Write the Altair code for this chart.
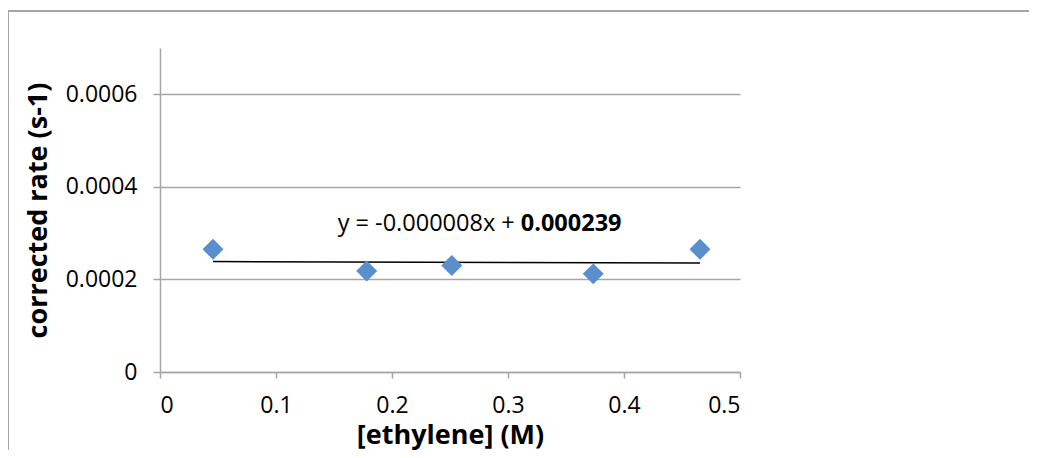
import altair as alt
import pandas as pd

# data
ethylene = [0.0457, 0.1782, 0.2515, 0.3735, 0.4655]
rate = [0.000265, 0.000218, 0.000230, 0.000212, 0.000265]

slope = -0.000008
intercept = 0.000239
trend_x = [min(ethylene), max(ethylene)]
trend_y = [slope * v + intercept for v in trend_x]

pts = pd.DataFrame({"x": ethylene, "y": rate})
trend = pd.DataFrame({"x": trend_x, "y": trend_y})

FONT = "Open Sans"
GRAY = "#a6a6a6"
BLUE = "#5b8fcb"

xscale = alt.Scale(domain=[0, 0.5], nice=False, zero=True)
yscale = alt.Scale(domain=[0, 0.0007], nice=False)

xaxis = alt.Axis(values=[0, 0.1, 0.2, 0.3, 0.4, 0.5], format="~g", grid=False,
                 title="[ethylene] (M)", titleFont=FONT, titleFontSize=27,
                 titleFontWeight="bold", titleColor="black", titlePadding=5,
                 labelFont=FONT, labelFontSize=23, labelColor="black",
                 labelPadding=16, tickSize=6, tickColor=GRAY, domainColor=GRAY,
                 tickWidth=1.5, domainWidth=1.5)
yaxis = alt.Axis(values=[0, 0.0002, 0.0004, 0.0006], format="~g", grid=True,
                 gridColor=GRAY, gridWidth=1.5,
                 title="corrected rate (s-1)", titleFont=FONT, titleFontSize=27,
                 titleFontWeight="bold", titleColor="black", titlePadding=13,
                 labelFont=FONT, labelFontSize=23, labelColor="black",
                 labelPadding=16, tickSize=7, tickColor=GRAY, domainColor=GRAY,
                 tickWidth=1.5, domainWidth=1.5)

points = alt.Chart(pts).mark_point(shape="diamond", filled=True, size=440,
                                    color=BLUE, opacity=1).encode(
    x=alt.X("x:Q", scale=xscale, axis=xaxis),
    y=alt.Y("y:Q", scale=yscale, axis=yaxis),
)

line = alt.Chart(trend).mark_line(color="black", strokeWidth=1.5).encode(
    x=alt.X("x:Q", scale=xscale),
    y=alt.Y("y:Q", scale=yscale),
)

eq_df = pd.DataFrame({"x": [0.311], "y": [0.000320]})
eq_normal = alt.Chart(eq_df).mark_text(text="y = -0.000008x +", align="right",
                                       baseline="middle", font=FONT, fontSize=23.5,
                                       dx=-6, color="black").encode(
    x=alt.X("x:Q", scale=xscale), y=alt.Y("y:Q", scale=yscale))
eq_bold = alt.Chart(eq_df).mark_text(text="0.000239", align="left",
                                     baseline="middle", font=FONT, fontSize=23.5,
                                     fontWeight="bold", color="black").encode(
    x=alt.X("x:Q", scale=xscale), y=alt.Y("y:Q", scale=yscale))

frame_left = alt.Chart(pts).mark_rule(color=GRAY, strokeWidth=2).encode(
    x=alt.value(-152), y=alt.value(-37), y2=alt.value(410))
frame_top = alt.Chart(pts).mark_rule(color=GRAY, strokeWidth=2).encode(
    x=alt.value(-152), x2=alt.value(880), y=alt.value(-37))

chart = alt.layer(frame_left, frame_top, line, points, eq_normal, eq_bold).properties(
    width=580, height=324,
    background="white",
    autosize=alt.AutoSizeParams(type="none"),
    padding={"left": 152, "top": 40, "right": 289, "bottom": 78},
).configure_view(strokeWidth=0, stroke="transparent")

chart.save("out.html", embed_options={"renderer": "svg", "actions": False})
